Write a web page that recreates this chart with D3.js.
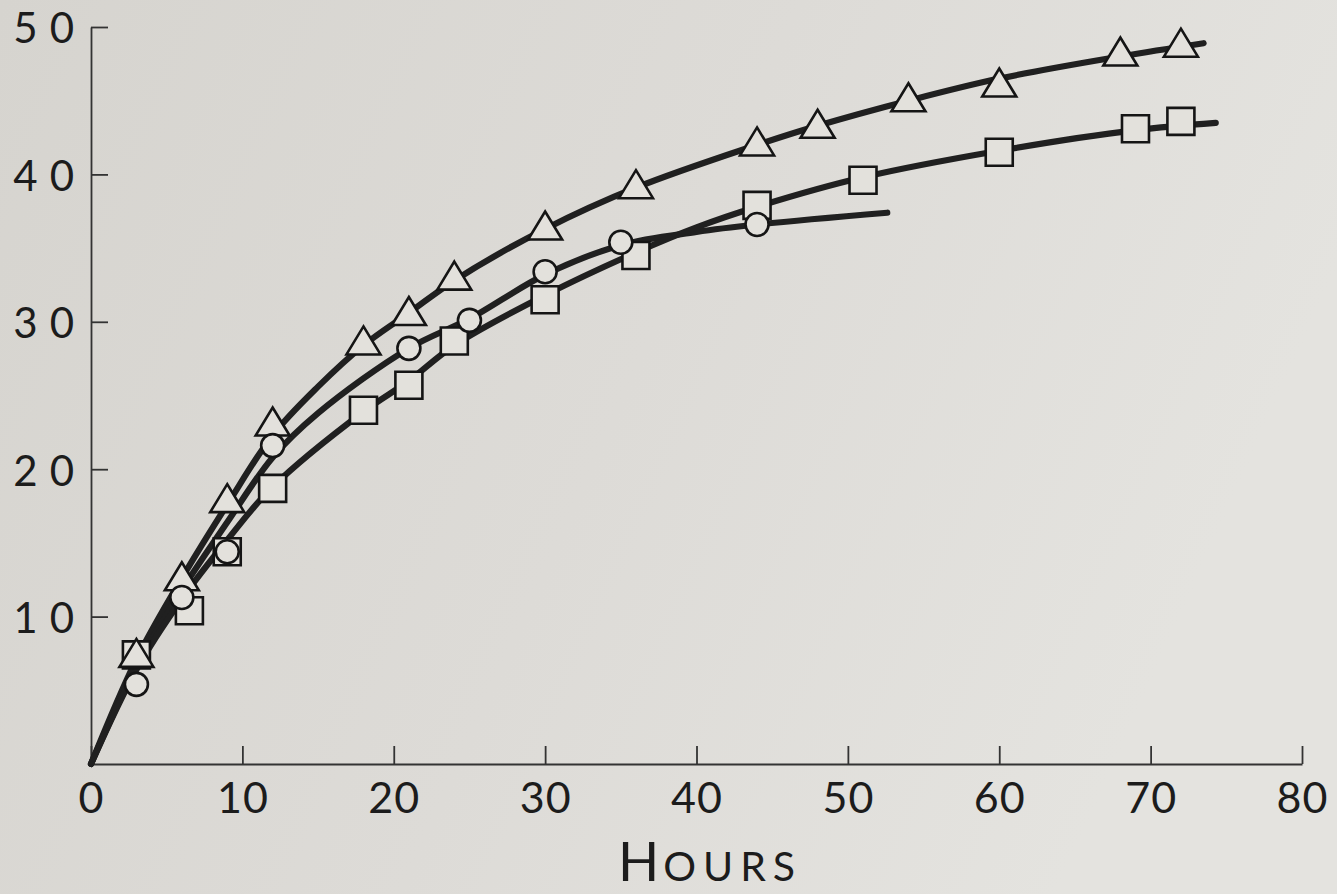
<!DOCTYPE html>
<html>
<head>
<meta charset="utf-8">
<script src="https://cdn.jsdelivr.net/npm/d3@7"></script>
<style>
  html, body { margin: 0; padding: 0; background: #dcdad5; }
  svg { display: block; }
</style>
</head>
<body>
<svg id="chart" width="1337" height="894"></svg>
<script>
// ---- Data ----
const xTicks = [0, 10, 20, 30, 40, 50, 60, 70, 80];
const yTicks = [10, 20, 30, 40, 50];
const xLabel = "Hours";

// Triangle series
const triX = [3, 6, 9, 12, 18, 21, 24, 30, 36, 44, 48, 54, 60, 68, 72];
const triY = [7.4, 12.6, 17.9, 23.1, 28.6, 30.6, 33.0, 36.4, 39.2, 42.1, 43.3, 45.1, 46.1, 48.2, 48.8];
// Circle series
const cirX = [3, 6, 9, 12, 21, 25, 30, 35, 44];
const cirY = [5.4, 11.3, 14.4, 21.6, 28.2, 30.1, 33.4, 35.4, 36.6];
// Square series
const sqX = [3, 6.5, 9, 12, 18, 21, 24, 30, 36, 44, 51, 60, 69, 72];
const sqY = [7.4, 10.4, 14.4, 18.7, 24.0, 25.7, 28.7, 31.5, 34.5, 37.9, 39.6, 41.5, 43.1, 43.6];

// Hand-drawn fitted curves
const triCurveX = [0, 3, 6, 9, 12, 15, 18, 21, 24, 30, 36, 44, 48, 54, 60, 68, 73.5];
const triCurveY = [0, 7.1, 12.6, 17.6, 22.3, 25.6, 28.4, 30.6, 32.8, 36.3, 39.1, 42.0, 43.3, 45.0, 46.5, 48.0, 48.9];
const cirCurveX = [0, 3, 6, 9, 12, 15, 21, 25, 30, 35, 40, 44, 52.6];
const cirCurveY = [0, 6.6, 11.8, 16.4, 20.8, 23.8, 28.2, 30.2, 33.2, 35.2, 36.1, 36.6, 37.4];
const sqCurveX = [0, 3, 6, 9, 12, 18, 21, 24, 30, 36, 40, 44, 51, 60, 69, 74.3];
const sqCurveY = [0, 6.4, 11.2, 15.2, 18.8, 23.9, 26.0, 28.4, 31.8, 34.7, 36.4, 37.8, 39.8, 41.6, 43.0, 43.5];

// ---- Layout ----
const svg = d3.select("#chart");
const W = 1337, H = 894;

const defs = svg.append("defs");
const grad = defs.append("linearGradient").attr("id", "paper")
  .attr("x1", "0%").attr("y1", "0%").attr("x2", "100%").attr("y2", "30%");
grad.append("stop").attr("offset", "0%").attr("stop-color", "#d6d4cf");
grad.append("stop").attr("offset", "55%").attr("stop-color", "#dddbd7");
grad.append("stop").attr("offset", "100%").attr("stop-color", "#e4e3df");
svg.append("rect").attr("width", W).attr("height", H).attr("fill", "url(#paper)");

const x = d3.scaleLinear().domain([0, 80]).range([91, 1302]);
const y = d3.scaleLinear().domain([0, 50]).range([764, 27]);

const ink = "#1c1c1c";
const fontFam = "Lato, 'Open Sans', sans-serif";

// X axis
const xAxis = svg.append("g").attr("transform", `translate(0,${y(0)})`)
  .call(d3.axisBottom(x).tickValues(xTicks).tickSize(-18).tickSizeOuter(0).tickPadding(18).tickFormat(d3.format("d")));
xAxis.select(".domain").attr("stroke", "#333").attr("stroke-width", 1.8);
xAxis.selectAll(".tick line").attr("stroke", "#333").attr("stroke-width", 1.8);
xAxis.selectAll(".tick text").attr("fill", ink).style("font-family", fontFam)
  .style("font-size", "43px").style("letter-spacing", "1px");

// Y axis
const yAxis = svg.append("g").attr("transform", `translate(${x(0)},0)`)
  .call(d3.axisLeft(y).tickValues(yTicks).tickSize(-17).tickSizeOuter(0).tickPadding(0).tickFormat(d3.format("d")));
yAxis.select(".domain").attr("stroke", "#333").attr("stroke-width", 1.8);
yAxis.selectAll(".tick line").attr("stroke", "#333").attr("stroke-width", 1.8);
yAxis.selectAll(".tick text").attr("fill", ink).style("font-family", fontFam)
  .style("font-size", "42px").style("letter-spacing", "12px")
  .attr("x", -5).attr("dy", "0.38em");

// X axis title (small caps)
const title = svg.append("text").attr("x", 710).attr("y", 881)
  .attr("text-anchor", "middle").attr("fill", ink).style("font-family", fontFam);
title.append("tspan").style("font-size", "54px").style("letter-spacing", "4px").text(xLabel[0].toUpperCase());
title.append("tspan").style("font-size", "41px").style("letter-spacing", "7px").text(xLabel.slice(1).toUpperCase());

// Curves
const line = d3.line().x(d => x(d[0])).y(d => y(d[1])).curve(d3.curveCatmullRom.alpha(0.5));
const curves = [
  d3.zip(triCurveX, triCurveY),
  d3.zip(cirCurveX, cirCurveY),
  d3.zip(sqCurveX, sqCurveY)
];
svg.append("g").selectAll("path").data(curves).join("path")
  .attr("d", line).attr("fill", "none").attr("stroke", "#202020")
  .attr("stroke-width", 6.2).attr("stroke-linecap", "round").attr("stroke-linejoin", "round");

// Markers
const mFill = "#e3e1dc";
const mStroke = "#151515";
const mWidth = 2.6;

svg.append("g").selectAll("path").data(d3.zip(sqX, sqY)).join("path")
  .attr("transform", d => `translate(${x(d[0])},${y(d[1])})`)
  .attr("d", "M-13.5,-13.5H13.5V13.5H-13.5Z")
  .attr("fill", mFill).attr("stroke", mStroke).attr("stroke-width", mWidth);

svg.append("g").selectAll("path").data(d3.zip(triX, triY)).join("path")
  .attr("transform", d => `translate(${x(d[0])},${y(d[1])})`)
  .attr("d", "M0,-16L17,12L-17,12Z")
  .attr("fill", mFill).attr("stroke", mStroke).attr("stroke-width", mWidth).attr("stroke-linejoin", "miter");

svg.append("g").selectAll("circle").data(d3.zip(cirX, cirY)).join("circle")
  .attr("cx", d => x(d[0])).attr("cy", d => y(d[1])).attr("r", 11.5)
  .attr("fill", mFill).attr("stroke", mStroke).attr("stroke-width", mWidth);
</script>
</body>
</html>
